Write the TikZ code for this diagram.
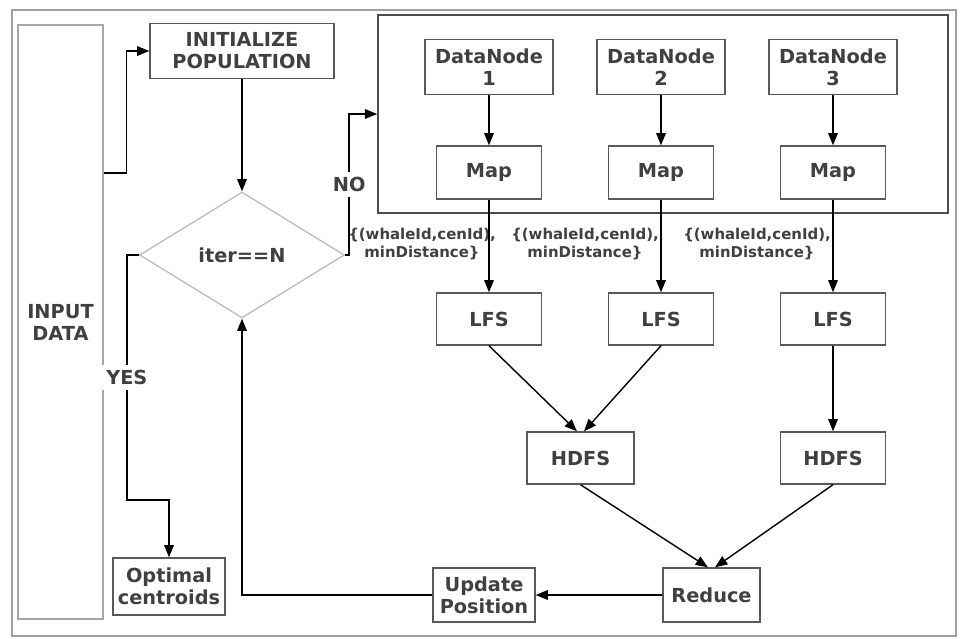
\documentclass[tikz,border=0pt]{standalone}
\usepackage{fontspec}
\setmainfont{DejaVu Sans}
\usetikzlibrary{shapes.geometric,arrows.meta}

\begin{document}
\begin{tikzpicture}[x=0.02cm,y=-0.02cm,
	box/.style={draw=black!65,line width=0.8pt,align=center,text=black!75,inner sep=0pt,
		font=\bfseries\fontsize{11}{12.5}\selectfont},
	arr/.style={-{Triangle[length=7pt,width=5.5pt]},line width=0.8pt},
	pairtag/.style={align=center,text=black!75,font=\bfseries\fontsize{8.5}{10}\selectfont},
	yesno/.style={fill=white,text=black!75,inner sep=3pt,font=\bfseries\fontsize{11}{12.5}\selectfont}]
\useasboundingbox (0,0) rectangle (961,639);
\draw[gray!75,line width=1.3pt] (12,10) rectangle (956,636);
\node[box,draw=black!35,minimum width=1.7cm,minimum height=11.88cm] (input) at (60.5,322) {INPUT\\DATA};
\node[box,minimum width=3.68cm,minimum height=1.1cm] (init) at (242,51) {INITIALIZE\\POPULATION};
\node[box,diamond,draw=black!25,minimum width=4.1cm,minimum height=2.52cm] (cond) at (242,255) {iter==N};
\node[box,minimum width=2.24cm,minimum height=1.14cm] (cent) at (169,586.5) {Optimal\\centroids};
\node[draw=black!70,line width=1pt,minimum width=11.4cm,minimum height=3.96cm,inner sep=0pt] (clus) at (663,114) {};
\foreach \i/\x/\l in {1/489/422,2/661/585,3/833/757} {
	\node[box,minimum width=2.56cm,minimum height=1.1cm] (dn\i) at (\x,67) {DataNode\\\i};
	\node[box,minimum width=2.1cm,minimum height=1.06cm] (map\i) at (\x,172.5) {Map};
	\node[box,minimum width=2.1cm,minimum height=1.04cm] (lfs\i) at (\x,319) {LFS};
	\node[pairtag] (pair\i) at (\l,244) {\{(whaleId,cenId),\\minDistance\}};
	\draw[arr] (dn\i) -- (map\i);
	\draw[arr] (map\i) -- (lfs\i);
}
\node[box,minimum width=2.14cm,minimum height=1.04cm] (hd1) at (580.5,458) {HDFS};
\node[box,minimum width=2.1cm,minimum height=1.04cm] (hd2) at (833,458) {HDFS};
\node[box,minimum width=1.94cm,minimum height=1.08cm] (red) at (711.5,595) {Reduce};
\node[box,minimum width=2.04cm,minimum height=1.08cm] (upd) at (484,595) {Update\\Position};
\draw[arr] ([yshift=2.98cm]input.east) -- ++(23,0) |- (init.west);
\draw[arr] (init) -- (cond);
\draw[arr] (cond.east) -- ++(4,0) |- node[pos=0.25,yesno] {NO} (clus.west);
\draw[arr] (cond.west) -- ++(-12,0) -- node[yesno] {YES} ++(0,245) -| (cent.north);
\draw[arr] (lfs1.south) -- ([xshift=-2pt]hd1.north);
\draw[arr] (lfs2.south) -- ([xshift=2pt]hd1.north);
\draw[arr] (lfs3) -- (hd2);
\draw[arr] (hd1.south) -- ([xshift=-2pt]red.north);
\draw[arr] (hd2.south) -- ([xshift=2pt]red.north);
\draw[arr] (red) -- (upd);
\draw[arr] (upd.west) -| (cond.south);
\end{tikzpicture}
\end{document}
